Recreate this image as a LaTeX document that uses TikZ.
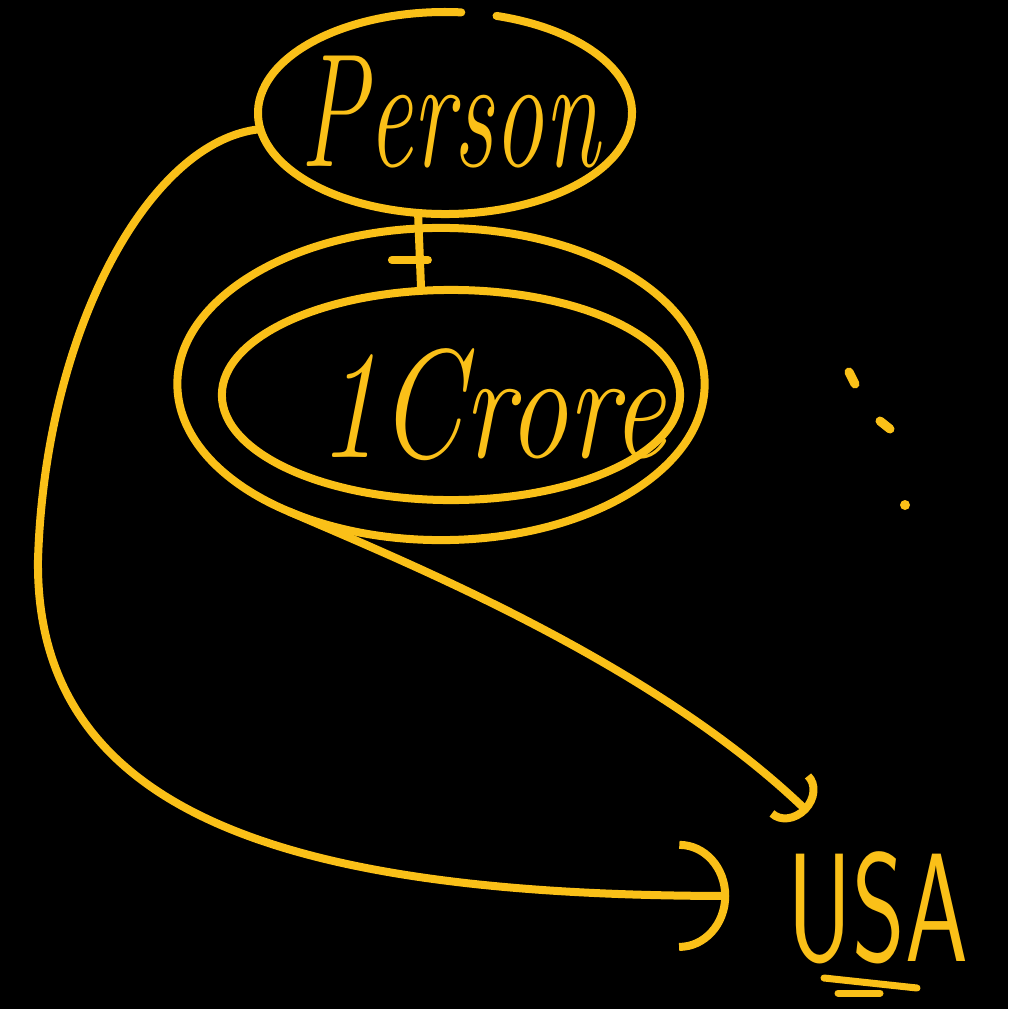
\documentclass[tikz,border=0pt]{standalone}
\usepackage{fontspec}
\usepackage{graphicx}
\usetikzlibrary{shapes.geometric,arrows.meta,calc}
\definecolor{ink}{RGB}{250,192,24}
\begin{document}
\begin{tikzpicture}[x=0.01cm,y=-0.01cm,
  stroke/.style={draw=ink,line width=0.08cm,line cap=round,line join=round},
  oval/.style={ellipse,inner sep=0pt,outer sep=0pt},
  word/.style={text=ink,inner sep=0pt},
  bigtip/.style={-{Arc Barb[width=1.1cm,length=0.5cm]}},
  smalltip/.style={-{Arc Barb[width=0.6cm,length=0.25cm]}}]
\fill[black] (0,0) rectangle (1008,1009);
\useasboundingbox (0,0) rectangle (1008,1009);
% Person
\node[oval,minimum width=3.74cm,minimum height=2.03cm] (person) at (445,113) {};
\node[word,font=\fontsize{46}{46}\selectfont\itshape] (persontext) at (450,112) {\scalebox{0.62}[1]{Person}};
\draw[stroke] ($(person.center)+(-74:187 and 101)$) arc[start angle=-74,end angle=275,x radius=187,y radius=101];
% 1Crore ellipses
\node[oval,stroke,minimum width=5.27cm,minimum height=3.12cm] (outer) at (441,384) {};
\node[oval,stroke,minimum width=4.58cm,minimum height=2.1cm] (inner) at (451,395) {};
\node[word,font=\fontsize{44}{44}\selectfont\itshape] (crore) at (492,405) {\scalebox{0.78}[1]{1Crore}};
% USA
\node[word,font=\fontsize{44}{44}\selectfont\sffamily] (usa) at (878,908) {\scalebox{0.65}[1]{USA}};
% connectors
\draw[stroke] (person.255) -- coordinate[pos=0.6] (tick) (inner.106);
\draw[stroke] ([xshift=-0.28cm]tick) -- ([xshift=0.08cm]tick);
\draw[stroke,smalltip] (outer.220) .. controls (400,560) and (650,660) .. ([shift={(-70,-96)}]usa.center);
\draw[stroke,bigtip] (person.185) .. controls (150,140) and (45,330) .. (38,560)
  .. controls (35,820) and (300,895) .. ([shift={(-58,-12)}]usa.west);
% underline of USA
\draw[stroke,line width=0.07cm] (824,978) -- (917,988);
\draw[stroke,line width=0.07cm] (838,993) -- (880,993);
% dots
\draw[stroke,line width=0.09cm] (849,372) -- (855,384);
\draw[stroke,line width=0.09cm] (880,421) -- (890,429);
\fill[ink] (905,505) circle[radius=5];
\end{tikzpicture}
\end{document}
